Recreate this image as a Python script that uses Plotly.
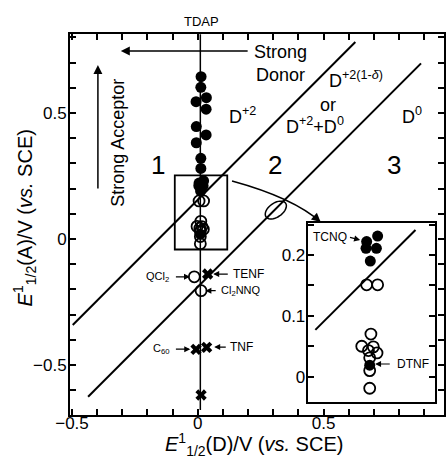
import numpy as np
import plotly.graph_objects as go

FONT = "Liberation Sans, Arial, Helvetica, sans-serif"

# ---- data (E1/2 values, V vs SCE) ----
filled_x = [0.013, 0.012, -0.007, 0.034, 0.033, -0.006, 0.033, -0.006, 0.012, 0.012,
            0.023, 0.005, 0.004, 0.021, 0.011, 0.010]
filled_y = [0.644, 0.602, 0.545, 0.561, 0.515, 0.446, 0.413, 0.382, 0.320, 0.280,
            0.231, 0.222, 0.211, 0.211, 0.190, 0.019]
open_x = [0.005, 0.023, 0.012, -0.003, 0.016, 0.008, 0.022, 0.010, 0.010, 0.010, -0.014, 0.013]
open_y = [0.151, 0.151, 0.070, 0.050, 0.049, 0.043, 0.039, 0.031, 0.010, -0.019, -0.150, -0.205]
cross_x = [0.039, -0.007, 0.035, 0.013]
cross_y = [-0.139, -0.438, -0.430, -0.619]

# inset subset (points inside the zoom box)
inset_filled_x = [0.023, 0.005, 0.004, 0.021, 0.011, 0.010]
inset_filled_y = [0.231, 0.222, 0.211, 0.211, 0.190, 0.019]
inset_open_x = [0.005, 0.023, 0.012, -0.003, 0.016, 0.008, 0.022, 0.010, 0.010, 0.010]
inset_open_y = [0.151, 0.151, 0.070, 0.050, 0.049, 0.043, 0.039, 0.031, 0.010, -0.019]

# TDAP reference line and boundary lines
tdap_x = [0.010, 0.010]
tdap_y = [0.813, -0.679]
b1_x = [-0.497, 0.626]
b1_y = [-0.341, 0.782]
b2_x = [-0.436, 0.887]
b2_y = [-0.626, 0.697]
inset_b_x = [-0.079, 0.085]
inset_b_y = [0.077, 0.241]

X_RANGE = [-0.5079, 0.9783]
Y_RANGE = [-0.6984, 0.8135]
IX_RANGE = [-0.0915, 0.117]
IY_RANGE = [-0.0416, 0.2526]

fig = go.Figure()
fig.add_trace(go.Scatter(x=tdap_x, y=tdap_y, mode="lines",
                         line=dict(color="black", width=1.5), hoverinfo="skip"))
for bx, by in [(b1_x, b1_y), (b2_x, b2_y)]:
    fig.add_trace(go.Scatter(x=bx, y=by, mode="lines",
                             line=dict(color="black", width=2), hoverinfo="skip"))
fig.add_trace(go.Scatter(x=open_x, y=open_y, mode="markers",
                         marker=dict(symbol="circle-open", size=11, color="black",
                                     line=dict(width=1.8, color="black"))))
fig.add_trace(go.Scatter(x=filled_x, y=filled_y, mode="markers",
                         marker=dict(symbol="circle", size=11, color="black")))
fig.add_trace(go.Scatter(x=cross_x, y=cross_y, mode="markers",
                         marker=dict(symbol="x", size=10, color="black")))

# inset
fig.add_trace(go.Scatter(x=inset_b_x, y=inset_b_y, mode="lines", xaxis="x2", yaxis="y2",
                         line=dict(color="black", width=2)))
fig.add_trace(go.Scatter(x=inset_open_x, y=inset_open_y, mode="markers", xaxis="x2", yaxis="y2",
                         marker=dict(symbol="circle-open", size=11, color="black",
                                     line=dict(width=1.8, color="black"))))
fig.add_trace(go.Scatter(x=inset_filled_x, y=inset_filled_y, mode="markers", xaxis="x2", yaxis="y2",
                         marker=dict(symbol="circle", size=11, color="black")))

shapes = []
# zoom box
shapes.append(dict(type="rect", xref="x", yref="y", x0=IX_RANGE[0], x1=IX_RANGE[1],
                   y0=IY_RANGE[0], y1=IY_RANGE[1], line=dict(color="black", width=1.8)))
# ellipse on boundary 2
cx, cy = 0.310, 0.115
t = np.linspace(0, 2 * np.pi, 41)
a, b, th = 12 / 253, 7 / 253, np.radians(35)
ex = cx + a * np.cos(t) * np.cos(th) - b * np.sin(t) * np.sin(th)
ey = cy + a * np.cos(t) * np.sin(th) + b * np.sin(t) * np.cos(th)
path = "M " + " L ".join(f"{u:.4f},{v:.4f}" for u, v in zip(ex, ey)) + " Z"
shapes.append(dict(type="path", xref="x", yref="y", path=path, line=dict(color="black", width=1.5)))
# curved pointer to inset
shapes.append(dict(type="path", xref="x", yref="y",
                   path="M 0.136,0.230 Q 0.381,0.163 0.488,0.067",
                   line=dict(color="black", width=1.5)))


def arrow(x, y, ax, ay, xr="x", yr="y", w=1.2, head=2, size=1.0):
    return dict(x=x, y=y, ax=ax, ay=ay, xref=xr, yref=yr, axref=xr, ayref=yr, text="",
                showarrow=True, arrowhead=head, arrowsize=size, arrowwidth=w, arrowcolor="black")


def label(x, y, text, size, xa="center", xr="x", yr="y", angle=0):
    return dict(x=x, y=y, xref=xr, yref=yr, text=text, showarrow=False, xanchor=xa,
                yanchor="middle", textangle=angle,
                font=dict(family=FONT, size=size, color="black"))


ann = [
    label(0.014, 1.0315, "TDAP", 13, yr="paper"),
    label(0.215, 0.698, "Strong<br>Donor", 18, xa="left"),
    arrow(-0.306, 0.746, 0.204, 0.746, w=1.5, head=2, size=1.2),
    label(-0.318, 0.381, "Strong Acceptor", 18, angle=-90),
    arrow(-0.397, 0.690, -0.397, 0.194, w=1.5, head=2, size=1.2),
    label(-0.160, 0.294, "1", 26),
    label(0.306, 0.294, "2", 26),
    label(0.781, 0.294, "3", 26),
    label(0.176, 0.492, "D<sup>+2</sup>", 18),
    label(0.630, 0.631, "D<sup>+2(1-<i>δ</i>)</sup>", 18),
    label(0.516, 0.532, "or", 18),
    label(0.464, 0.452, "D<sup>+2</sup>+D<sup>0</sup>", 18),
    label(0.852, 0.492, "D<sup>0</sup>", 18),
    # small labels
    label(-0.105, -0.150, "QCl<sub>2</sub>", 11, xa="right"),
    arrow(-0.031, -0.150, -0.093, -0.150),
    label(0.132, -0.139, "TENF", 12, xa="left"),
    arrow(0.061, -0.139, 0.125, -0.139),
    label(0.085, -0.205, "Cl<sub>2</sub>NNQ", 11, xa="left"),
    arrow(0.030, -0.205, 0.077, -0.205),
    label(-0.101, -0.437, "C<sub>60</sub>", 11, xa="right"),
    arrow(-0.030, -0.437, -0.093, -0.437),
    label(0.121, -0.429, "TNF", 12, xa="left"),
    arrow(0.065, -0.429, 0.117, -0.429),
    # pointer arrowhead
    arrow(0.488, 0.067, 0.470, 0.083, w=1.5, head=2, size=1.2),
    # inset labels
    label(-0.0247, 0.2296, "TCNQ", 12, xa="right", xr="x2", yr="y2"),
    arrow(-0.0057, 0.2246, -0.0247, 0.2296, xr="x2", yr="y2"),
    label(0.051, 0.0209, "DTNF", 12, xa="left", xr="x2", yr="y2"),
    arrow(0.0188, 0.0209, 0.0453, 0.0209, xr="x2", yr="y2"),
    # axis titles
    dict(x=0.492, y=-0.077, xref="paper", yref="paper", showarrow=False,
         text="<i>E</i><sup>1</sup><sub>1/2</sub>(D)/V (<i>vs.</i> SCE)",
         xanchor="center", yanchor="middle", font=dict(family=FONT, size=20, color="black")),
    dict(x=-0.122, y=0.517, xref="paper", yref="paper", showarrow=False, textangle=-90,
         text="<i>E</i><sup>1</sup><sub>1/2</sub>(A)/V (<i>vs.</i> SCE)",
         xanchor="center", yanchor="middle", font=dict(family=FONT, size=20, color="black")),
]

axis_common = dict(showgrid=False, zeroline=False, showline=True, linecolor="black",
                   linewidth=2, ticks="inside", ticklen=6, tickwidth=1.5, tickcolor="black",
                   tickfont=dict(family=FONT, size=17, color="black"), mirror="ticks")

fig.update_layout(
    width=446, height=462, margin=dict(l=70, r=0, t=34, b=47),
    paper_bgcolor="white", plot_bgcolor="white", showlegend=False,
    xaxis=dict(axis_common, range=X_RANGE, tick0=0, dtick=0.5, domain=[0, 1],
               ticklabelstandoff=-8,
               minor=dict(dtick=0.1, tick0=0, ticks="inside", ticklen=6, tickwidth=1.5,
                          tickcolor="black")),
    yaxis=dict(axis_common, range=Y_RANGE, tick0=0, dtick=0.5, domain=[0, 1],
               ticklabelstandoff=-2,
               minor=dict(dtick=0.1, tick0=0, ticks="inside", ticklen=6, tickwidth=1.5,
                          tickcolor="black")),
    xaxis2=dict(showgrid=False, zeroline=False, showline=True, linecolor="black", linewidth=2,
                mirror=True, ticks="", showticklabels=False, range=IX_RANGE,
                domain=[0.6356, 0.976], anchor="y2"),
    yaxis2=dict(axis_common, range=IY_RANGE, tick0=0, dtick=0.1, domain=[0.0341, 0.504],
                anchor="x2", ticklabelstandoff=-3,
                minor=dict(dtick=0.05, tick0=0, ticks="inside", ticklen=6, tickwidth=1.5,
                           tickcolor="black")),
    shapes=shapes, annotations=ann,
)

fig.write_html("out.html")
